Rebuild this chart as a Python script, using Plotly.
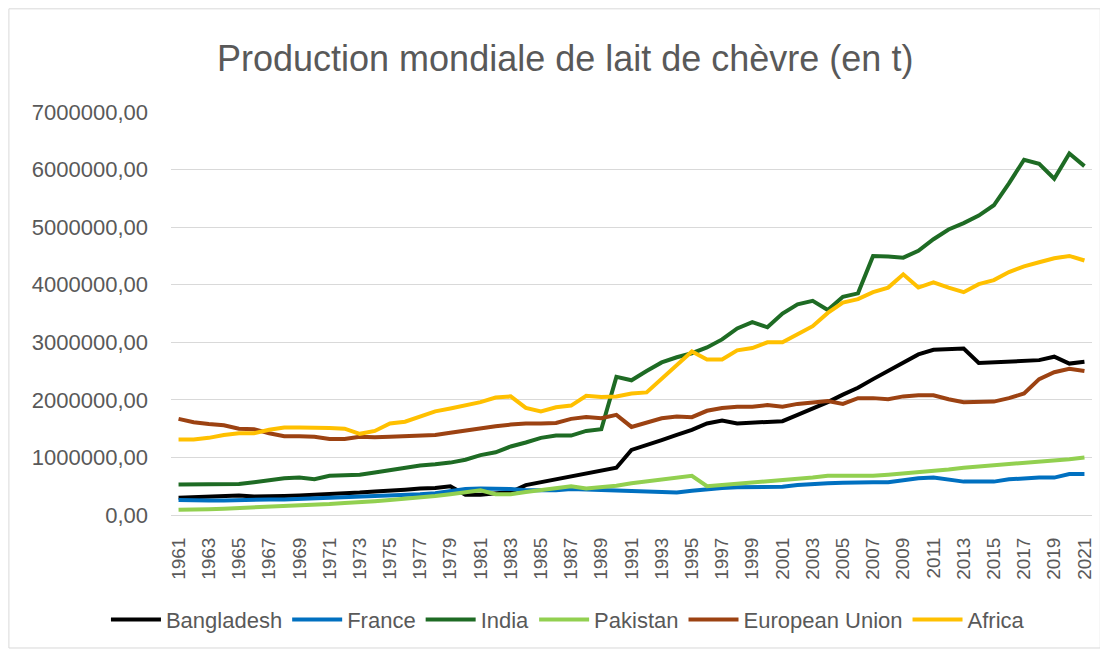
import plotly.graph_objects as go

years = [str(y) for y in range(1961, 2022)]

bangladesh = [0.30, 0.31, 0.32, 0.34, 0.34, 0.32, 0.32, 0.33, 0.34, 0.35,
              0.36, 0.37, 0.39, 0.41, 0.42, 0.44, 0.46, 0.47, 0.50, 0.35,
              0.35, 0.37, 0.40, 0.52, 0.57, 0.61, 0.66, 0.71, 0.76, 0.82,
              1.13, 1.21, 1.30, 1.39, 1.48, 1.59, 1.64, 1.59, 1.60, 1.61,
              1.63, 1.74, 1.85, 1.96, 2.09, 2.21, 2.36, 2.51, 2.66, 2.79,
              2.87, 2.88, 2.89, 2.64, 2.65, 2.66, 2.67, 2.69, 2.75, 2.63, 2.66]
france = [0.26, 0.25, 0.25, 0.25, 0.26, 0.26, 0.27, 0.27, 0.28, 0.29,
          0.29, 0.30, 0.31, 0.32, 0.33, 0.35, 0.36, 0.38, 0.41, 0.45,
          0.46, 0.46, 0.45, 0.43, 0.43, 0.43, 0.45, 0.44, 0.43, 0.42,
          0.42, 0.41, 0.39, 0.39, 0.42, 0.45, 0.47, 0.48, 0.48, 0.48,
          0.49, 0.52, 0.54, 0.55, 0.56, 0.57, 0.57, 0.57, 0.61, 0.64,
          0.65, 0.61, 0.58, 0.58, 0.58, 0.62, 0.64, 0.65, 0.65, 0.71, 0.71]
india = [0.53, 0.53, 0.53, 0.54, 0.54, 0.57, 0.60, 0.64, 0.65, 0.62,
         0.68, 0.69, 0.70, 0.74, 0.78, 0.83, 0.86, 0.88, 0.91, 0.96,
         1.04, 1.09, 1.19, 1.26, 1.34, 1.38, 1.38, 1.46, 1.49, 2.40,
         2.34, 2.50, 2.65, 2.74, 2.81, 2.91, 3.05, 3.24, 3.35, 3.26,
         3.50, 3.66, 3.72, 3.56, 3.79, 3.85, 4.50, 4.49, 4.47, 4.59,
         4.79, 4.96, 5.07, 5.20, 5.38, 5.76, 6.17, 6.10, 5.84, 6.28, 6.06]
pakistan = [0.09, 0.09, 0.10, 0.11, 0.12, 0.13, 0.14, 0.15, 0.16, 0.17,
            0.19, 0.21, 0.22, 0.24, 0.26, 0.28, 0.30, 0.33, 0.36, 0.39,
            0.43, 0.36, 0.36, 0.40, 0.43, 0.47, 0.50, 0.46, 0.48, 0.51,
            0.55, 0.58, 0.61, 0.65, 0.68, 0.50, 0.52, 0.54, 0.56, 0.58,
            0.61, 0.63, 0.65, 0.68, 0.68, 0.68, 0.68, 0.70, 0.72, 0.75,
            0.77, 0.79, 0.82, 0.84, 0.86, 0.89, 0.91, 0.93, 0.95, 0.97, 1.00]
eu = [1.67, 1.61, 1.58, 1.56, 1.50, 1.49, 1.42, 1.37, 1.37, 1.36,
      1.32, 1.32, 1.36, 1.35, 1.36, 1.37, 1.39, 1.39, 1.43, 1.47,
      1.50, 1.54, 1.57, 1.59, 1.59, 1.60, 1.67, 1.70, 1.68, 1.74,
      1.53, 1.61, 1.68, 1.71, 1.70, 1.81, 1.86, 1.88, 1.88, 1.91,
      1.88, 1.93, 1.96, 1.98, 1.93, 2.03, 2.03, 2.01, 2.06, 2.08,
      2.08, 2.01, 1.96, 1.96, 1.97, 2.03, 2.11, 2.36, 2.48, 2.54, 2.50]
africa = [1.31, 1.31, 1.34, 1.39, 1.42, 1.42, 1.48, 1.52, 1.52, 1.52,
          1.51, 1.50, 1.41, 1.46, 1.59, 1.62, 1.71, 1.80, 1.85, 1.90,
          1.96, 2.04, 2.06, 1.86, 1.80, 1.87, 1.90, 2.07, 2.05, 2.06,
          2.11, 2.13, 2.37, 2.60, 2.84, 2.70, 2.70, 2.86, 2.90, 3.00,
          3.00, 3.14, 3.28, 3.51, 3.69, 3.75, 3.87, 3.95, 4.18, 3.95,
          4.04, 3.95, 3.87, 4.01, 4.08, 4.22, 4.32, 4.39, 4.46, 4.50, 4.42]

series = [
    ("Bangladesh", bangladesh, "#000000"),
    ("France", france, "#0070C0"),
    ("India", india, "#1E6B24"),
    ("Pakistan", pakistan, "#92D050"),
    ("European Union", eu, "#9C4212"),
    ("Africa", africa, "#FFC000"),
]

fig = go.Figure()
for name, vals, color in series:
    fig.add_trace(go.Scatter(
        x=years, y=[v * 1e6 for v in vals], mode="lines", name=name,
        line=dict(color=color, width=4, shape="linear"),
    ))

tick_years = years[::2]

fig.update_layout(
    width=1100, height=643,
    paper_bgcolor="white", plot_bgcolor="white",
    separators=", ",
    margin=dict(l=163, r=16, t=104, b=136, autoexpand=False),
    title=dict(text="Production mondiale de lait de chèvre (en t)",
               x=0.428, xref="paper", xanchor="center",
               y=0.922, yref="container", yanchor="middle",
               font=dict(family="Liberation Sans, Arial, sans-serif", size=36, color="#595959")),
    font=dict(family="Liberation Sans, Arial, sans-serif", color="#595959"),
    xaxis=dict(type="category", range=[-0.5, 60.5], tickmode="array",
               tickvals=tick_years, ticktext=tick_years, tickangle=-90,
               tickfont=dict(size=19, color="#595959"), showgrid=False,
               showline=True, linecolor="#d9d9d9", linewidth=1, ticks="",
               ticklabelstandoff=14),
    yaxis=dict(range=[0, 7000000], dtick=1000000, tickformat=".2f",
               tickfont=dict(size=22, color="#595959"), gridcolor="#d9d9d9",
               gridwidth=1, zeroline=False, showline=False, ticks="",
               ticklabelstandoff=22),
    legend=dict(orientation="h", x=0.431, xanchor="center", y=-0.26, yanchor="middle",
                font=dict(size=22, color="#595959"), itemwidth=50,
                bgcolor="rgba(0,0,0,0)"),
    shapes=[dict(type="rect", xref="paper", yref="paper",
                 x0=-0.176, x1=1.009, y0=-0.330, y1=1.256,
                 line=dict(color="#d9d9d9", width=1), layer="below")],
)

fig.write_html("out.html")
